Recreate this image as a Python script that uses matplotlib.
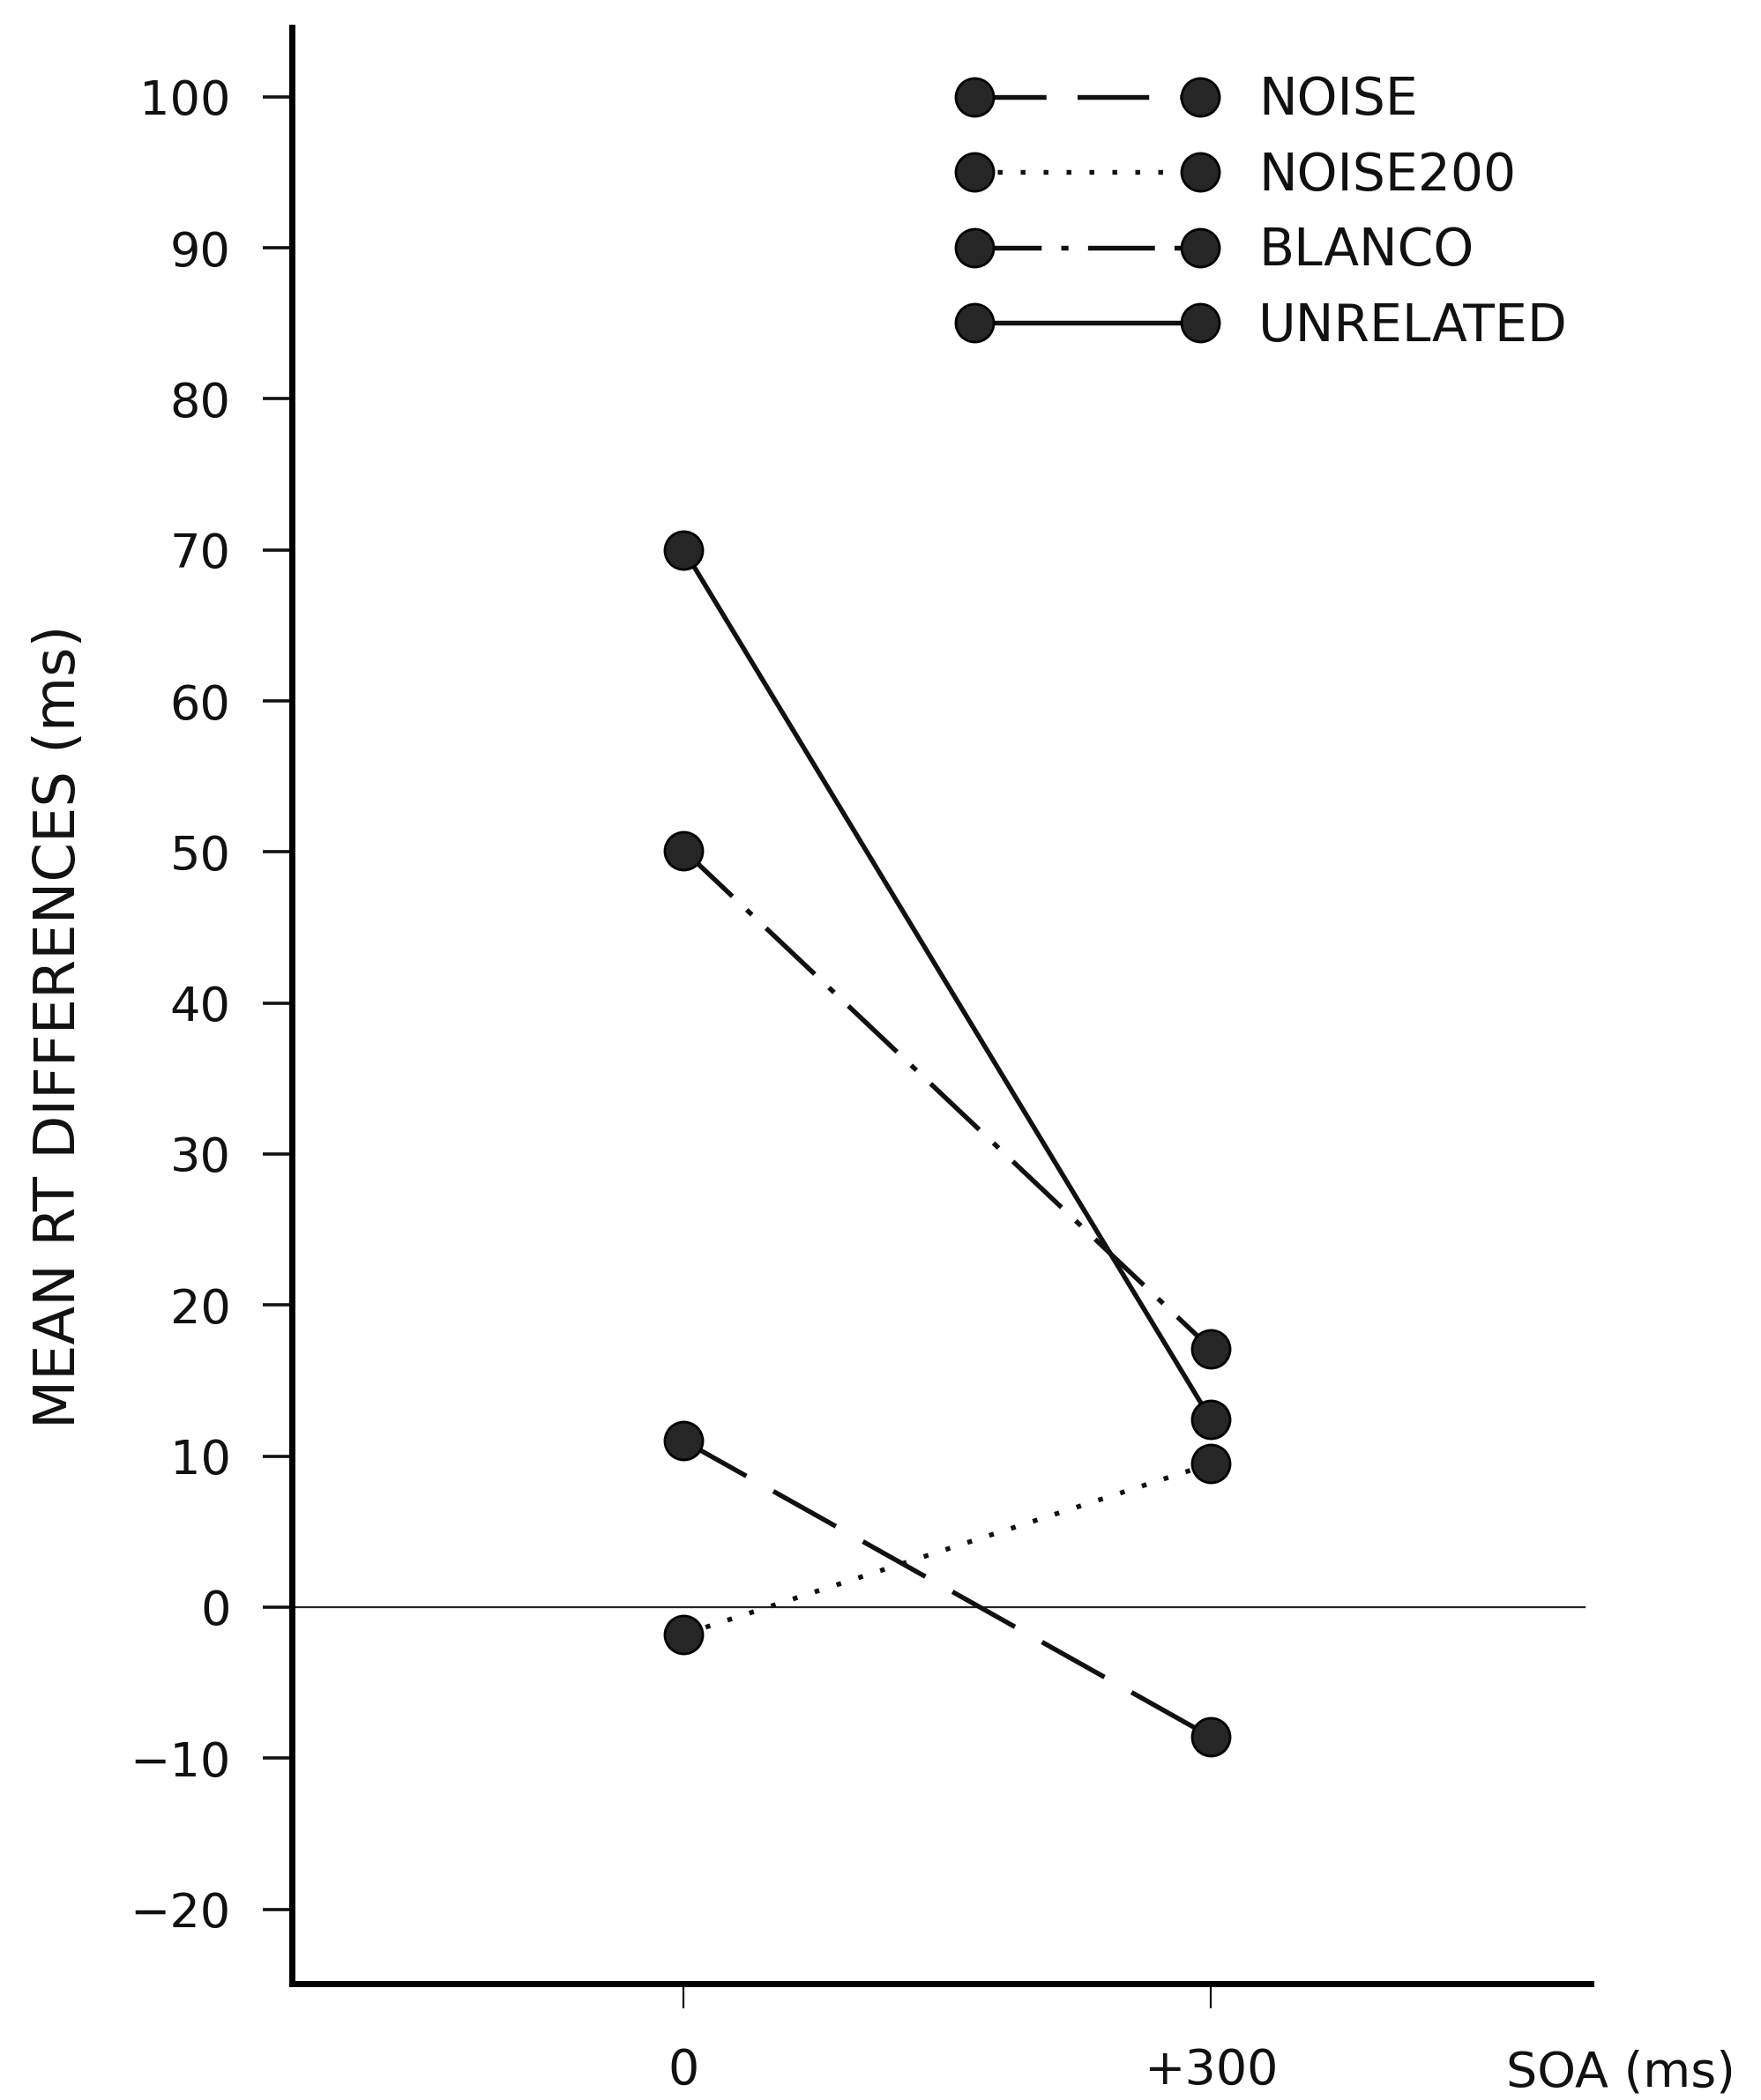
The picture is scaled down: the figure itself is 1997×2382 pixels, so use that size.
import matplotlib
matplotlib.use("Agg")
import matplotlib.pyplot as plt

plt.rcParams['font.family'] = ['DejaVu Sans']

# ---- data ----
soa = [0, 300]
series_names = ["NOISE", "NOISE200", "BLANCO", "UNRELATED"]
noise = [11.0, -8.6]
noise200 = [-1.8, 9.5]
blanco = [50.1, 17.1]
unrelated = [70.0, 12.4]
yticks = [-20, -10, 0, 10, 20, 30, 40, 50, 60, 70, 80, 90, 100]
xtick_labels = ["0", "+300"]

W, H = 1997, 2382
fig = plt.figure(figsize=(W / 100, H / 100), dpi=100)
ax_left, ax_right, ax_top, ax_bot = 331, 1804, 31, 2250
ax = fig.add_axes([ax_left / W, 1 - ax_bot / H, (ax_right - ax_left) / W, (ax_bot - ax_top) / H])

ax.set_xlim(-223, 516)
ax.set_ylim(-24.93, 104.6)

lw = 3.9
mk = dict(marker='o', markersize=31, markerfacecolor='#262626',
          markeredgecolor='#000000', markeredgewidth=2.0, color='#111111',
          linewidth=lw, solid_capstyle='butt')

styles = {
    "NOISE": (0, (15.0, 6.5)),
    "NOISE200": (0, (1.0, 3.8)),
    "BLANCO": (0, (14.0, 4.1, 1.5, 4.1)),
    "UNRELATED": '-',
}
data = {"NOISE": noise, "NOISE200": noise200, "BLANCO": blanco, "UNRELATED": unrelated}

handles = []
for name in series_names:
    ln, = ax.plot(soa, data[name], linestyle=styles[name], label=name, zorder=3, **mk)
    handles.append(ln)

# zero reference line
ax.axhline(0, xmin=0, xmax=0.995, color='#222222', linewidth=1.6, zorder=1)

# spines
for s in ['top', 'right']:
    ax.spines[s].set_visible(False)
for s in ['left', 'bottom']:
    ax.spines[s].set_linewidth(5.0)
    ax.spines[s].set_color('#000000')

ax.set_yticks(yticks)
ax.set_yticklabels([f"{v}".replace('-', '\u2212') for v in yticks])
ax.tick_params(axis='y', direction='out', length=24, width=2.6, pad=26,
               labelsize=39, colors='#111111')
ax.set_xticks(soa)
ax.set_xticklabels(xtick_labels)
ax.tick_params(axis='x', direction='out', length=20, width=1.6, pad=32,
               labelsize=40, colors='#111111')

ax.set_ylabel("MEAN RT DIFFERENCES (ms)", fontsize=46, color='#111111', labelpad=0)
ax.yaxis.set_label_coords(-(ax_left - 67) / (ax_right - ax_left), (ax_bot - 1164) / (ax_bot - ax_top))
ax.yaxis.label.set_verticalalignment('center')

ax.set_xlabel("SOA (ms)", fontsize=40, color='#111111')
ax.xaxis.set_label_coords((1838 - ax_left) / (ax_right - ax_left), -(2351 - ax_bot) / (ax_bot - ax_top))
ax.xaxis.label.set_verticalalignment('center')

fs = 42
leg = ax.legend(handles=handles, loc='upper left',
                bbox_to_anchor=(1087 / W, 1 - 85 / H), bbox_transform=fig.transFigure,
                frameon=False, fontsize=fs, numpoints=2, handlelength=5.0,
                handletextpad=0.83, labelspacing=0.49, borderpad=0, borderaxespad=0)
for t in leg.get_texts():
    t.set_color('#111111')

fig.savefig("out.png", dpi=100, facecolor='white')
